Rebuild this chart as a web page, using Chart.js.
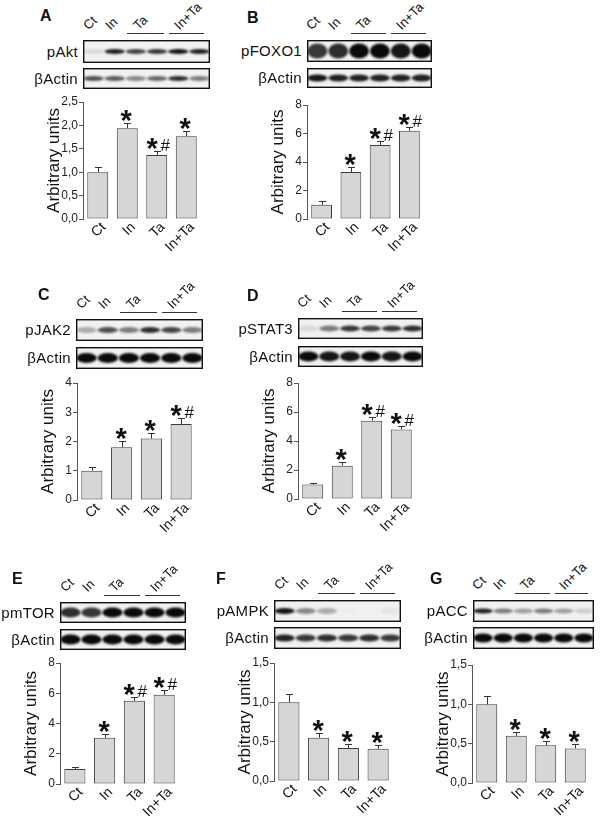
<!DOCTYPE html>
<html>
<head>
<meta charset="utf-8">
<script src="https://cdn.jsdelivr.net/npm/chart.js@4.4.1/dist/chart.umd.min.js"></script>
<style>
  body { margin: 0; width: 600px; height: 821px; position: relative; overflow: hidden; background: #fff;
         font-family: "Liberation Sans", Arial, sans-serif; color: #111; }
  .abs    { position: absolute; line-height: 1; white-space: nowrap; }
  .letter { font-weight: bold; font-size: 16px; }
  .prot   { font-size: 15px; letter-spacing: 0.3px; text-align: right; }
  .lane   { font-size: 13px; transform: rotate(-45deg); transform-origin: 0 100%; }
  .rule   { position: absolute; height: 1px; background: #333; }
</style>
</head>
<body>
<script>
// ── Data ──────────────────────────────────────────────────────────────────────
const lanes = ['Ct', 'In', 'Ta', 'In+Ta'];
const laneTags = ['Ct', 'In', 'Ta', 'In+Ta'];

const aktMean  = [1.0, 1.94, 1.37, 1.77];
const aktSem   = [0.11, 0.11, 0.09, 0.1];
const aktSig   = ['', '*', '*#', '*'];

const foxoMean = [1.0, 3.3, 5.2, 6.2];
const foxoSem  = [0.25, 0.35, 0.3, 0.25];
const foxoSig  = ['', '*', '*#', '*#'];

const jakMean  = [1.0, 1.8, 2.1, 2.6];
const jakSem   = [0.13, 0.22, 0.2, 0.22];
const jakSig   = ['', '*', '*', '*#'];

const statMean = [1.0, 2.3, 5.4, 4.8];
const statSem  = [0.1, 0.25, 0.25, 0.25];
const statSig  = ['', '*', '*#', '*#'];

const mtorMean = [1.0, 3.05, 5.5, 5.9];
const mtorSem  = [0.12, 0.25, 0.25, 0.3];
const mtorSig  = ['', '*', '*#', '*#'];

const ampkMean = [1.0, 0.55, 0.42, 0.41];
const ampkSem  = [0.11, 0.06, 0.05, 0.05];
const ampkSig  = ['', '*', '*', '*'];

const accMean  = [1.0, 0.6, 0.48, 0.44];
const accSem   = [0.1, 0.05, 0.05, 0.05];
const accSig   = ['', '*', '*', '*'];

// blot band densities, 6 lanes (Ct, In, Ta, Ta, In+Ta, In+Ta)
const aktBands   = [0.1, 0.9, 0.75, 0.8, 0.95, 0.9];
const aktActin   = [0.7, 0.65, 0.45, 0.6, 0.85, 0.5];
const foxoBands  = [0.8, 0.85, 1, 1, 0.95, 1];
const foxoActin  = [0.95, 0.9, 0.9, 0.9, 0.9, 0.9];
const jakBands   = [0.3, 0.7, 0.5, 0.85, 0.75, 0.5];
const jakActin   = [1, 1, 1, 1, 1, 1];
const statBands  = [0.1, 0.5, 0.8, 0.75, 0.8, 0.85];
const statActin  = [1, 0.95, 0.95, 1, 0.95, 1];
const mtorBands  = [0.85, 0.8, 1, 1, 1, 1];
const mtorActin  = [1, 1, 1, 1, 1, 1];
const ampkBands  = [0.95, 0.45, 0.3, 0.02, 0, 0.05];
const ampkActin  = [0.9, 0.8, 0.85, 0.8, 0.85, 0.8];
const accBands   = [0.9, 0.5, 0.35, 0.5, 0.35, 0.15];
const accActin   = [1, 1, 1, 1, 1, 1];

// ── Layout ────────────────────────────────────────────────────────────────────
const panels = [
  { tag: 'A', prot: 'pAkt', mean: aktMean, sem: aktSem, sig: aktSig, max: 2.5, step: 0.5, dec: true,
    bands: aktBands, actin: aktActin, bandH: 5, actinH: 5,
    letter: [40, 8], blot: { x: 83, w: 127, y1: 40, h1: 23, y2: 68, h2: 21 },
    area: { l: 83, t: 102, r: 201, b: 219 } },
  { tag: 'B', prot: 'pFOXO1', mean: foxoMean, sem: foxoSem, sig: foxoSig, max: 8, step: 2,
    bands: foxoBands, actin: foxoActin, bandH: 15, actinH: 7,
    letter: [247, 10], blot: { x: 307, w: 125, y1: 40, h1: 22, y2: 68, h2: 20 },
    area: { l: 307, t: 105, r: 424, b: 219 } },
  { tag: 'C', prot: 'pJAK2', mean: jakMean, sem: jakSem, sig: jakSig, max: 4, step: 1,
    bands: jakBands, actin: jakActin, bandH: 6, actinH: 10,
    letter: [38, 287], blot: { x: 76, w: 127, y1: 319, h1: 22, y2: 347, h2: 22 },
    area: { l: 77, t: 383, r: 196, b: 500 } },
  { tag: 'D', prot: 'pSTAT3', mean: statMean, sem: statSem, sig: statSig, max: 8, step: 2,
    bands: statBands, actin: statActin, bandH: 6, actinH: 10,
    letter: [247, 288], blot: { x: 298, w: 125, y1: 318, h1: 21, y2: 346, h2: 21 },
    area: { l: 298, t: 383, r: 416, b: 499 } },
  { tag: 'E', prot: 'pmTOR', mean: mtorMean, sem: mtorSem, sig: mtorSig, max: 8, step: 2,
    bands: mtorBands, actin: mtorActin, bandH: 10, actinH: 10,
    letter: [12, 571], blot: { x: 60, w: 126, y1: 602, h1: 21, y2: 629, h2: 21 },
    area: { l: 60, t: 663, r: 179, b: 784 } },
  { tag: 'F', prot: 'pAMPK', mean: ampkMean, sem: ampkSem, sig: ampkSig, max: 1.5, step: 0.5, dec: true,
    bands: ampkBands, actin: ampkActin, bandH: 6, actinH: 7,
    letter: [216, 571], blot: { x: 274, w: 127, y1: 600, h1: 22, y2: 627, h2: 22 },
    area: { l: 274, t: 663, r: 393, b: 781 } },
  { tag: 'G', prot: 'pACC', mean: accMean, sem: accSem, sig: accSig, max: 1.5, step: 0.5, dec: true,
    bands: accBands, actin: accActin, bandH: 5, actinH: 9,
    letter: [430, 571], blot: { x: 473, w: 121, y1: 600, h1: 22, y2: 627, h2: 22 },
    area: { l: 472, t: 665, r: 590, b: 783 } },
];

const FONT = '"Liberation Sans", Arial, sans-serif';
Chart.defaults.font.family = FONT;

function addDiv(cls, text, css) {
  const d = document.createElement('div');
  d.className = cls;
  d.textContent = text;
  d.style.cssText = css;
  document.body.appendChild(d);
  return d;
}

// ── Western blot strips (decoration) ──────────────────────────────────────────
function drawBlot(x, y, w, h, dens, bandH) {
  const cv = document.createElement('canvas');
  cv.width = w; cv.height = h;
  cv.style.cssText = `position:absolute;left:${x}px;top:${y}px`;
  document.body.appendChild(cv);
  const ctx = cv.getContext('2d');
  ctx.fillStyle = '#f1f1f1';
  ctx.fillRect(0, 0, w, h);
  const lw = w / 6;
  ctx.filter = 'blur(1.2px)';
  dens.forEach((d, i) => {
    ctx.fillStyle = `rgba(10,10,10,${d})`;
    ctx.beginPath();
    ctx.ellipse(lw * (i + 0.5), h / 2, lw * 0.48, bandH / 2, 0, 0, Math.PI * 2);
    ctx.fill();
  });
  ctx.filter = 'none';
  ctx.strokeStyle = '#111';
  ctx.lineWidth = 1.4;
  ctx.strokeRect(0.7, 0.7, w - 1.4, h - 1.4);
}

function drawHeader(p) {
  const b = p.blot, lw = b.w / 6, lineY = b.y1 - 7;
  addDiv('abs letter', p.tag, `left:${p.letter[0]}px;top:${p.letter[1]}px`);
  const starts = [b.x + lw * 0.5 - 4, b.x + lw * 1.5 - 3, b.x + lw * 3 - 7, b.x + lw * 5 - 8];
  laneTags.forEach((t, i) => addDiv('abs lane', t, `left:${starts[i]}px;top:${lineY - 14}px`));
  [[b.x + lw * 2 + 2, b.x + lw * 4 - 4], [b.x + lw * 4 + 1, b.x + lw * 6 - 6]].forEach(([x0, x1]) => {
    const r = document.createElement('div');
    r.className = 'rule';
    r.style.cssText = `left:${x0}px;top:${lineY}px;width:${x1 - x0}px`;
    document.body.appendChild(r);
  });
  drawBlot(b.x, b.y1, b.w, b.h1, p.bands, p.bandH);
  drawBlot(b.x, b.y2, b.w, b.h2, p.actin, p.actinH);
  addDiv('abs prot', p.prot, `right:${600 - b.x + 5}px;top:${b.y1 + b.h1 / 2 - 8}px`);
  addDiv('abs prot', 'βActin', `right:${600 - b.x + 5}px;top:${b.y2 + b.h2 / 2 - 8}px`);
}

// ── Bar charts ────────────────────────────────────────────────────────────────
function makeChart(p) {
  const a = p.area, YW = 39, PT = 12, PR = 8, XH = 50;
  const W = YW + (a.r - a.l) + PR, H = PT + (a.b - a.t) + XH;
  const cv = document.createElement('canvas');
  cv.width = W; cv.height = H;
  cv.style.cssText = `position:absolute;left:${a.l - YW}px;top:${a.t - PT}px;width:${W}px;height:${H}px`;
  document.body.appendChild(cv);

  // error caps plus significance marks, placed through the scales
  const marks = {
    id: 'marks',
    afterDatasetsDraw(chart) {
      const { ctx, scales: { x, y } } = chart;
      ctx.save();
      ctx.strokeStyle = '#333';
      ctx.lineWidth = 1;
      p.mean.forEach((v, i) => {
        const xc = Math.round(x.getPixelForValue(i)) + 0.5;
        const y0 = y.getPixelForValue(v), y1 = Math.round(y.getPixelForValue(v + p.sem[i])) + 0.5;
        ctx.beginPath();
        ctx.moveTo(xc, y0); ctx.lineTo(xc, y1);
        ctx.moveTo(xc - 3.5, y1); ctx.lineTo(xc + 3.5, y1);
        ctx.stroke();
        const s = p.sig[i];
        if (!s) return;
        const cy = y1 - 8;
        const sx = s.includes('#') ? xc - 5 : xc - 1;
        ctx.fillStyle = '#111';
        ctx.textAlign = 'left';
        ctx.textBaseline = 'alphabetic';
        ctx.font = `bold 29px ${FONT}`;
        let m = ctx.measureText('*');
        ctx.fillText('*', sx - (m.actualBoundingBoxRight - m.actualBoundingBoxLeft) / 2 + m.actualBoundingBoxLeft,
                     cy + (m.actualBoundingBoxAscent - m.actualBoundingBoxDescent) / 2);
        if (s.includes('#')) {
          ctx.font = `17px ${FONT}`;
          m = ctx.measureText('#');
          ctx.fillText('#', xc + 3, cy + 1 + (m.actualBoundingBoxAscent - m.actualBoundingBoxDescent) / 2);
        }
      });
      ctx.restore();
    }
  };

  new Chart(cv, {
    type: 'bar',
    data: {
      labels: lanes,
      datasets: [{
        data: p.mean,
        backgroundColor: '#d6d6d6',
        borderColor: '#3a3a3a',
        borderWidth: 1,
        borderSkipped: false,
        barPercentage: 0.71,
        categoryPercentage: 1,
      }]
    },
    options: {
      responsive: false,
      animation: false,
      devicePixelRatio: 1,
      layout: { padding: { top: PT, right: PR, left: 0, bottom: 0 } },
      plugins: { legend: { display: false }, tooltip: { enabled: false } },
      scales: {
        x: {
          grid: { display: false, drawTicks: false },
          border: { display: false },
          ticks: { color: '#111', font: { size: 14 }, minRotation: 45, maxRotation: 45, padding: 0, labelOffset: 6 },
          afterFit: s => { s.height = XH; },
        },
        y: {
          min: 0, max: p.max,
          grid: { drawOnChartArea: false, drawTicks: true, tickLength: 4, color: '#555' },
          border: { color: '#555' },
          ticks: {
            stepSize: p.step, color: '#222', font: { size: 12 }, padding: 1,
            callback: v => p.dec ? v.toFixed(1).replace('.', ',') : String(v),
          },
          title: { display: true, text: 'Arbitrary units', color: '#111', font: { size: 17 }, padding: 0 },
          afterFit: s => { s.width = YW; },
        }
      }
    },
    plugins: [marks]
  });
}

panels.forEach(p => { drawHeader(p); makeChart(p); });
</script>
</body>
</html>
